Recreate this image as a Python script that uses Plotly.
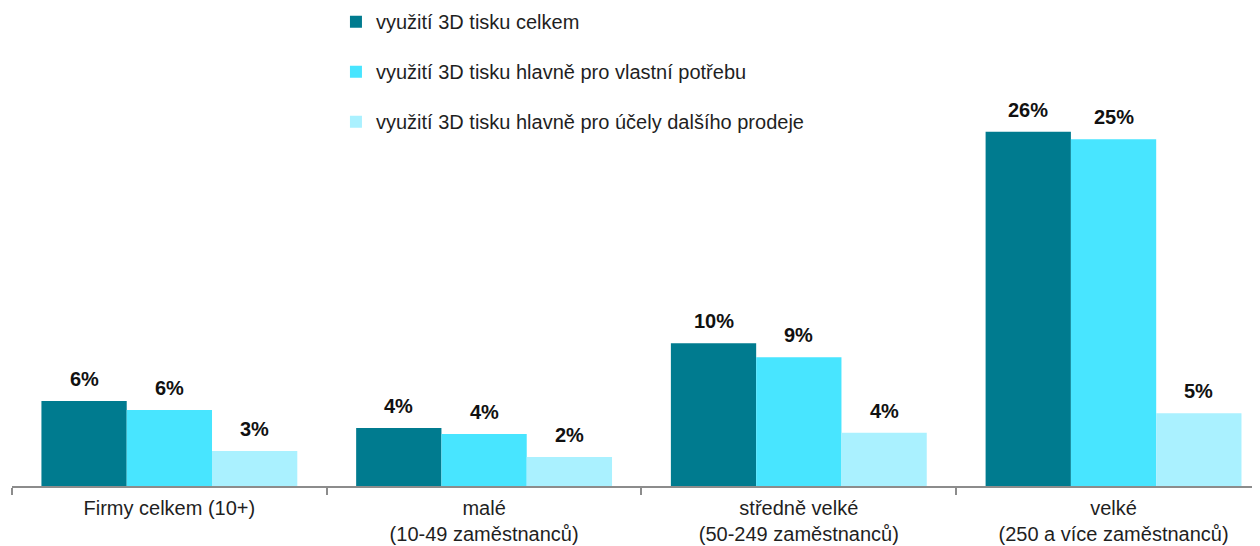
import plotly.graph_objects as go

categories = ["Firmy celkem (10+)", "malé<br>(10-49 zaměstnanců)",
              "středně velké<br>(50-249 zaměstnanců)", "velké<br>(250 a více zaměstnanců)"]
series_names = ["využití 3D tisku celkem",
                "využití 3D tisku hlavně pro vlastní potřebu",
                "využití 3D tisku hlavně pro účely dalšího prodeje"]
total = [6.24, 4.26, 10.47, 26.0]
own_use = [5.58, 3.82, 9.44, 25.44]
resale = [2.57, 2.13, 3.91, 5.33]
colors = ["#007B8F", "#48E5FF", "#AAF1FF"]

series = [total, own_use, resale]
bargap = 0.187
bw = (1 - bargap) / 3
FONT = "Liberation Sans, Arial, sans-serif"

fig = go.Figure()
for i, (name, vals, col) in enumerate(zip(series_names, series, colors)):
    fig.add_trace(go.Bar(x=categories, y=vals, name=name, marker_color=col,
                         marker_line_width=0, legendgroup=f"g{i}"))
    for j, v in enumerate(vals):
        fig.add_annotation(x=j + (i - 1) * bw, y=v, xref="x", yref="y",
                           text=f"{round(v)}%", showarrow=False, yanchor="bottom",
                           yshift=9, font=dict(family=FONT, size=20,
                                               color="#111111", weight="bold"))

fig.update_layout(
    width=1252, height=538,
    margin=dict(l=4, r=2, t=22, b=60, autoexpand=False),
    plot_bgcolor="white", paper_bgcolor="white",
    barmode="group", bargap=bargap, bargroupgap=0,
    font=dict(family=FONT, size=20, color="#1f1f1f"),
    legend=dict(x=0.260, y=1.061, xanchor="left", yanchor="top",
                traceorder="grouped", tracegroupgap=21,
                font=dict(family=FONT, size=20, color="#1f1f1f"),
                bgcolor="rgba(0,0,0,0)"),
    showlegend=True,
)
fig.update_xaxes(type="category", range=[-0.5, 3.459], showline=True, linecolor="#8c8c8c",
                 linewidth=2, ticks="outside", tickson="boundaries", ticklen=7,
                 tickcolor="#8c8c8c", tickwidth=2, showgrid=False, automargin=False,
                 ticklabelstandoff=3,
                 tickfont=dict(family=FONT, size=20, color="#1f1f1f"))
fig.update_yaxes(range=[0, 33.46], visible=False, showgrid=False, zeroline=False,
                 automargin=False)

fig.write_html("out.html")
